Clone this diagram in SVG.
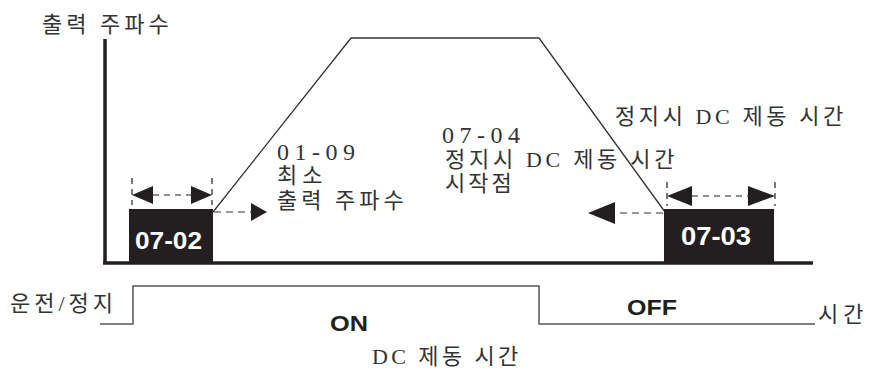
<svg xmlns="http://www.w3.org/2000/svg" width="869" height="376" viewBox="0 0 869 376">
<style>
.kr{font-family:"Liberation Serif","Noto Sans CJK KR",serif;font-size:22px;fill:#333}
.dg{font-family:"Liberation Serif","Noto Sans CJK KR",serif;font-size:24px;fill:#333}
.bx{fill:#231f20}
.bt{font-family:"Liberation Sans",Arial,sans-serif;font-weight:bold;fill:#fff}
.st{font-family:"Liberation Sans",Arial,sans-serif;font-weight:bold;font-size:22px;fill:#231f20}
.ax{stroke:#231f20;stroke-width:3.5;fill:none}
.ln{stroke:#333;stroke-width:1.3;fill:none}
.dim{stroke:#231f20;stroke-width:1.2;stroke-dasharray:6 5;fill:none}
.gd{stroke:#777;stroke-width:1.5;stroke-dasharray:7 5;fill:none}
.ah{fill:#231f20}
.sig{stroke:#555;stroke-width:1.5;fill:none}
</style>
<rect width="869" height="376" fill="#fff"/>
<g id="axes">
<line class="ax" x1="105" y1="39" x2="105" y2="264"/>
<line class="ax" x1="103" y1="263" x2="813" y2="263"/>
</g>
<g id="connectors">
<polyline class="ln" points="213,212 351,38 539,38 665,212"/>
<line class="dim" x1="132" y1="178" x2="132" y2="205"/>
<line class="dim" x1="212" y1="178" x2="212" y2="205"/>
<line class="dim" x1="153" y1="195" x2="191" y2="195"/>
<polygon class="ah" points="132,195 153,186 153,204"/>
<polygon class="ah" points="212,195 191,186 191,204"/>
<line class="gd" x1="214" y1="212" x2="251" y2="212"/>
<polygon class="ah" points="267,212 251,203 251,221"/>
<line class="dim" x1="667" y1="182" x2="667" y2="206"/>
<line class="dim" x1="775" y1="182" x2="775" y2="206"/>
<line class="dim" x1="692" y1="196" x2="748" y2="196"/>
<polygon class="ah" points="667,196 692,186 692,206"/>
<polygon class="ah" points="775,196 748,186 748,206"/>
<line class="gd" x1="663" y1="213" x2="615" y2="213"/>
<polygon class="ah" points="588,213 615,202 615,224"/>
<polyline class="sig" points="100,324 133,324 133,286 539,286 539,324 815,324"/>
</g>
<g id="box-0702">
<rect class="bx" x="129" y="209" width="84" height="54"/>
<text class="bt" x="135" y="249" font-size="23" textLength="67" lengthAdjust="spacingAndGlyphs">07-02</text>
</g>
<g id="box-0703">
<rect class="bx" x="664" y="209" width="110" height="54"/>
<text class="bt" x="681" y="245" font-size="25" textLength="70" lengthAdjust="spacingAndGlyphs">07-03</text>
</g>
<g id="labels">
<text class="kr" x="42" y="32" letter-spacing="4">출력 주파수</text>
<text class="dg" x="277" y="160" letter-spacing="5.5">01-09</text>
<text class="kr" x="277" y="183" letter-spacing="5">최소</text>
<text class="kr" x="277" y="208" letter-spacing="4">출력 주파수</text>
<text class="dg" x="442" y="143" letter-spacing="5.5">07-04</text>
<text class="kr" x="445" y="167" letter-spacing="3.7">정지시 DC 제동 시간</text>
<text class="kr" x="445" y="191" letter-spacing="3">시작점</text>
<text class="kr" x="615" y="124" letter-spacing="3.6">정지시 DC 제동 시간</text>
<text class="kr" x="10" y="311" letter-spacing="4" font-size="23">운전/정지</text>
<text class="st" x="330" y="331" textLength="38" lengthAdjust="spacingAndGlyphs">ON</text>
<text class="st" x="627" y="315" textLength="50" lengthAdjust="spacingAndGlyphs">OFF</text>
<text class="kr" x="818" y="322" letter-spacing="5">시간</text>
<text class="kr" x="372" y="364" letter-spacing="3.4">DC 제동 시간</text>
</g>
</svg>
